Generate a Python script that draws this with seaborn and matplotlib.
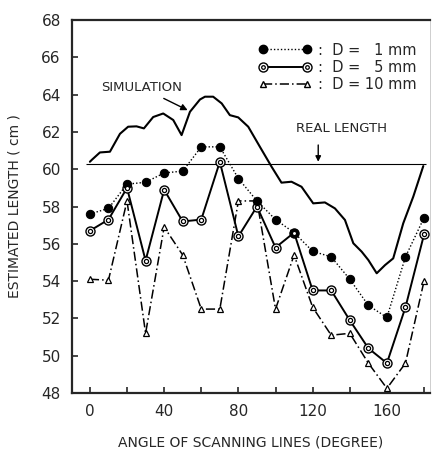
import numpy as np
import pandas as pd
import matplotlib
matplotlib.use("Agg")
import matplotlib.pyplot as plt
from matplotlib.lines import Line2D
from matplotlib.legend_handler import HandlerTuple
import seaborn as sns

# scanning angles (degree)
angle = [0, 10, 20, 30, 40, 50, 60, 70, 80, 90, 100, 110, 120, 130, 140, 150, 160, 170, 180]

# estimated length (cm) for each cell size D
d1 = [57.6, 57.9, 59.2, 59.3, 59.8, 59.9, 61.2, 61.2, 59.5, 58.3, 57.3, 56.6,
      55.6, 55.3, 54.1, 52.7, 52.05, 55.3, 57.4]
d5 = [56.7, 57.3, 59.0, 55.1, 58.9, 57.2, 57.3, 60.4, 56.4, 58.0, 55.8, 56.6,
      53.5, 53.5, 51.9, 50.4, 49.6, 52.6, 56.5]
d10 = [54.1, 54.05, 58.3, 51.2, 56.9, 55.4, 52.5, 52.5, 58.3, 58.3, 52.5, 55.4,
       52.6, 51.1, 51.2, 49.6, 48.25, 49.6, 54.0]

# simulation curve
sim_angle = [0, 1, 5.4, 10.8, 16.2, 20.6, 25.1, 29.1, 34.1, 39.5, 44.9, 49.4,
             53.9, 59.3, 62, 66.4, 71, 75.4, 79.9, 85.3, 91.6, 97.9, 103.2,
             108.6, 114, 120.3, 126.6, 132, 137.4, 141.9, 146.4, 150, 154.5,
             159, 163.4, 168.8, 174.2, 179.6]
sim_len = [60.4, 60.5, 60.9, 60.94, 61.9, 62.28, 62.3, 62.19, 62.8, 62.99,
           62.64, 61.83, 63.08, 63.74, 63.89, 63.89, 63.53, 62.9, 62.78, 62.28,
           61.2, 60.13, 59.28, 59.33, 59.06, 58.17, 58.22, 57.9, 57.28, 56.03,
           55.58, 55.13, 54.42, 54.86, 55.22, 57.1, 58.53, 60.17]

real_length = 60.3
y_ticks = [48, 50, 52, 54, 56, 58, 60, 62, 64, 66, 68]
x_ticks = [0, 40, 80, 120, 160]

df = pd.DataFrame({"angle": angle, "d1": d1, "d5": d5, "d10": d10})
sim = pd.DataFrame({"angle": sim_angle, "length": sim_len})

sns.set_style("ticks")
plt.rcParams['font.family'] = ['DejaVu Sans']

fig = plt.figure(figsize=(4.41, 4.61), dpi=100)
ax = fig.add_axes([0.163, 0.1475, 0.812, 0.809])

# simulation and real length
sns.lineplot(data=sim, x="angle", y="length", ax=ax, color="black", lw=1.5, sort=False)
ax.hlines(real_length, -2, 181, color="black", lw=0.8)

# D = 10 mm
sns.lineplot(data=df, x="angle", y="d10", ax=ax, color="black", lw=1.1,
             linestyle=(0, (6, 2, 1, 2)), marker="^", markersize=5,
             markerfacecolor="white", markeredgecolor="black", markeredgewidth=0.9)
# D = 5 mm (double circle marker)
sns.lineplot(data=df, x="angle", y="d5", ax=ax, color="black", lw=1.4,
             marker="o", markersize=6.5, markerfacecolor="white",
             markeredgecolor="black", markeredgewidth=1.0)
sns.scatterplot(data=df, x="angle", y="d5", ax=ax, s=9, color="white",
                edgecolor="black", linewidth=0.9, zorder=5)
# D = 1 mm
sns.lineplot(data=df, x="angle", y="d1", ax=ax, color="black", lw=1.0,
             linestyle=(0, (1, 1.5)), marker="o", markersize=6,
             markerfacecolor="black", markeredgecolor="black")

ax.set_xlim(-9.7, 183.2)
ax.set_ylim(48, 68)
ax.set_xticks(x_ticks)
ax.set_xticks([20, 60, 100, 140, 180], minor=True)
ax.set_yticks(y_ticks)
ax.tick_params(direction="in", length=4, width=1.2, labelsize=11, pad=8)
ax.tick_params(which="minor", direction="in", length=4, width=1.2)
ax.set_xlabel("ANGLE OF SCANNING LINES (DEGREE)", fontsize=10, labelpad=12)
ax.set_ylabel("ESTIMATED LENGTH ( cm )", fontsize=10, labelpad=14)

for s in ["left", "bottom", "top"]:
    ax.spines[s].set_linewidth(1.6)
ax.spines["right"].set_linewidth(0.5)
ax.spines["right"].set_color("#bbbbbb")

# annotations
ax.annotate("SIMULATION", xy=(54, 63.1), xytext=(6, 64.2), fontsize=9.5,
            arrowprops=dict(arrowstyle="-|>", color="black", lw=1.0, shrinkA=2))
ax.text(111, 62.2, "REAL LENGTH", fontsize=9.5, va="center")
ax.annotate("", xy=(123, 60.4), xytext=(123, 61.3),
            arrowprops=dict(arrowstyle="-|>", color="black", lw=1.0,
                            shrinkA=0, shrinkB=0, mutation_scale=8))

# legend
h1 = Line2D([], [], color="black", lw=1.0, linestyle=(0, (1, 1.5)), marker="o",
            markersize=6, markerfacecolor="black")
h5 = Line2D([], [], color="black", lw=1.4, marker="o", markersize=6.5,
            markerfacecolor="white", markeredgecolor="black")
h5in = Line2D([], [], lw=0, marker="o", markersize=2.6,
              markerfacecolor="white", markeredgecolor="black", markeredgewidth=0.9)
h10 = Line2D([], [], color="black", lw=1.1, linestyle=(0, (6, 2, 1, 2)), marker="^",
             markersize=5, markerfacecolor="white", markeredgecolor="black")
ax.legend([h1, (h5, h5in), h10], [":  D =   1 mm", ":  D =   5 mm", ":  D = 10 mm"],
          loc="upper right", frameon=False, numpoints=2, handlelength=3.6,
          fontsize=10.5, labelspacing=0.15, bbox_to_anchor=(1.0, 0.975),
          handletextpad=0.5, handler_map={tuple: HandlerTuple(ndivide=1)})

fig.savefig("out.png", dpi=100)
